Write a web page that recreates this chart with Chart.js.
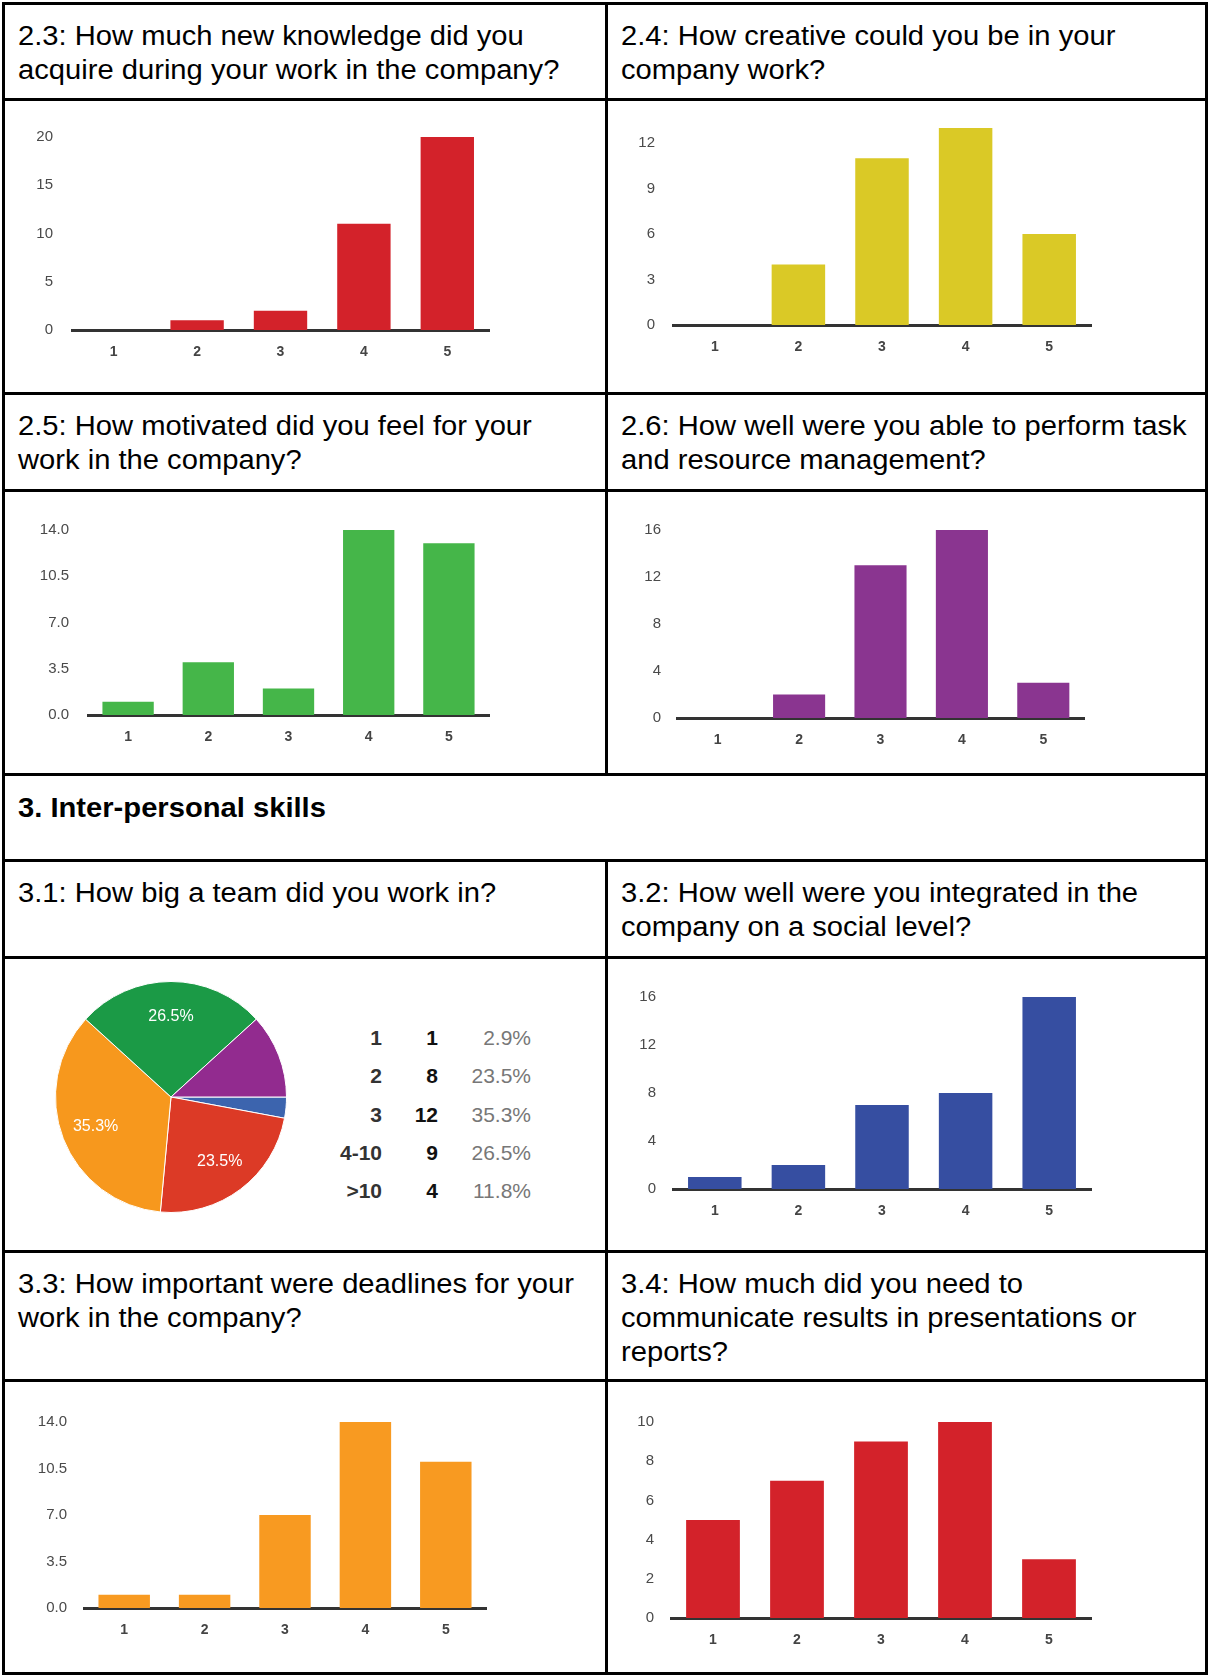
<!DOCTYPE html>
<html>
<head>
<meta charset="utf-8">
<script src="https://cdn.jsdelivr.net/npm/chart.js@4"></script>
<style>
body { margin: 0; background: #fff; font-family: "Liberation Sans", Arial, sans-serif; }
#page { position: relative; width: 1208px; height: 1675px; overflow: hidden; background: #fff; }
.hl, .vl { position: absolute; background: #000; }
.hl { left: 2px; width: 1206px; height: 3px; }
.vl { width: 3px; }
.t { position: absolute; font-size: 27px; line-height: 34px; color: #000; white-space: nowrap;
     transform: scaleX(1.08); transform-origin: 0 0; }
.box { position: absolute; }
#legend { position: absolute; left: 300px; top: 1019px; display: grid;
          grid-template-columns: 82px 56px 93px; grid-auto-rows: 38.3px; align-items: center;
          font-size: 21px; text-align: right; }
#legend .lab { font-weight: bold; color: #333; }
#legend .cnt { font-weight: bold; color: #111; }
#legend .pct { color: #777; }
</style>
</head>
<body>
<div id="page">
  <div class="hl" style="top:2px"></div>
  <div class="hl" style="top:98px"></div>
  <div class="hl" style="top:392px"></div>
  <div class="hl" style="top:489px"></div>
  <div class="hl" style="top:773px"></div>
  <div class="hl" style="top:859px"></div>
  <div class="hl" style="top:956px"></div>
  <div class="hl" style="top:1250px"></div>
  <div class="hl" style="top:1379px"></div>
  <div class="hl" style="top:1672px"></div>
  <div class="vl" style="left:2px;top:2px;height:1673px"></div>
  <div class="vl" style="left:1205px;top:2px;height:1673px"></div>
  <div class="vl" style="left:605px;top:2px;height:774px"></div>
  <div class="vl" style="left:605px;top:859px;height:816px"></div>

  <div class="t" style="left:18px;top:19px">2.3: How much new knowledge did you<br>acquire during your work in the company?</div>
  <div class="t" style="left:621px;top:19px">2.4: How creative could you be in your<br>company work?</div>
  <div class="t" style="left:18px;top:409px">2.5: How motivated did you feel for your<br>work in the company?</div>
  <div class="t" style="left:621px;top:409px">2.6: How well were you able to perform task<br>and resource management?</div>
  <div class="t" style="left:18px;top:791px;font-weight:bold">3. Inter-personal skills</div>
  <div class="t" style="left:18px;top:876px">3.1: How big a team did you work in?</div>
  <div class="t" style="left:621px;top:876px">3.2: How well were you integrated in the<br>company on a social level?</div>
  <div class="t" style="left:18px;top:1267px">3.3: How important were deadlines for your<br>work in the company?</div>
  <div class="t" style="left:621px;top:1267px">3.4: How much did you need to<br>communicate results in presentations or<br>reports?</div>

  <div id="legend"></div>
</div>

<script>
const ratingLabels = ["1", "2", "3", "4", "5"];

const knowledgeValues = [0, 1, 2, 11, 20];
const knowledgeTicks = [0, 5, 10, 15, 20];

const creativityValues = [0, 4, 11, 13, 6];
const creativityTicks = [0, 3, 6, 9, 12];

const motivationValues = [1, 4, 2, 14, 13];
const motivationTicks = [0, 3.5, 7, 10.5, 14];

const managementValues = [0, 2, 13, 16, 3];
const managementTicks = [0, 4, 8, 12, 16];

const teamLabels = ["1", "2", "3", "4-10", ">10"];
const teamCounts = [1, 8, 12, 9, 4];

const integrationValues = [1, 2, 7, 8, 16];
const integrationTicks = [0, 4, 8, 12, 16];

const deadlineValues = [1, 1, 7, 14, 11];
const deadlineTicks = [0, 3.5, 7, 10.5, 14];

const communicationValues = [5, 7, 9, 10, 3];
const communicationTicks = [0, 2, 4, 6, 8, 10];

const FONT = '"Liberation Sans", Arial, sans-serif';
const Y_W = 70, X_H = 44;
const page = document.getElementById("page");

// move/resize the box so the chart area lands on the wanted page rectangle
function fitArea(chart, box, area) {
  const ca = chart.chartArea;
  const w = box.clientWidth, h = box.clientHeight;
  const exL = ca.left, exT = ca.top, exR = w - ca.right, exB = h - ca.bottom;
  box.style.left = (area.l - exL) + "px";
  box.style.top = (area.t - exT) + "px";
  box.style.width = (area.r - area.l + exL + exR) + "px";
  box.style.height = (area.b - area.t + exT + exB) + "px";
  chart.resize();
}

// plot: l/r = x-axis ends, t = pixel of top tick, b = zero line; labelRight = right edge of y labels
function barChart(plot, labelRight, values, ticks, color, decimals) {
  const topTick = ticks[ticks.length - 1];
  const yMax = Math.max(topTick, ...values);
  const area = {
    l: plot.l, r: plot.r, b: plot.b,
    t: plot.b - (plot.b - plot.t) * yMax / topTick
  };

  const box = document.createElement("div");
  box.className = "box";
  box.style.left = (area.l - Y_W) + "px";
  box.style.top = (area.t - 20) + "px";
  box.style.width = (area.r - area.l + Y_W + 20) + "px";
  box.style.height = (area.b - area.t + 20 + X_H) + "px";
  const cv = document.createElement("canvas");
  box.appendChild(cv);
  page.appendChild(box);

  const chart = new Chart(cv, {
    type: "bar",
    data: {
      labels: ratingLabels,
      datasets: [{
        data: values,
        backgroundColor: color,
        borderWidth: 0,
        barPercentage: 0.64,
        categoryPercentage: 1.0
      }]
    },
    options: {
      responsive: true,
      maintainAspectRatio: false,
      animation: false,
      layout: { padding: { top: 12, right: 16, left: 0, bottom: 0 } },
      plugins: { legend: { display: false }, tooltip: { enabled: false } },
      scales: {
        x: {
          z: 1,
          grid: { display: false, drawTicks: false },
          border: { display: true, color: "#333", width: 3 },
          ticks: { color: "#444", padding: 14, font: { family: FONT, size: 14, weight: "bold" } },
          afterFit: s => { s.height = X_H; }
        },
        y: {
          min: ticks[0],
          max: yMax,
          grid: { display: false, drawTicks: false },
          border: { display: false },
          ticks: {
            color: "#4a4a4a",
            padding: plot.l - labelRight,
            font: { family: FONT, size: 15 },
            callback: v => v.toFixed(decimals)
          },
          afterBuildTicks: s => { s.ticks = ticks.map(v => ({ value: v })); },
          afterFit: s => { s.width = Y_W; }
        }
      }
    }
  });
  fitArea(chart, box, area);
  return chart;
}

barChart({ l: 72, r: 489, t: 137, b: 330 }, 53, knowledgeValues, knowledgeTicks, "#d3222a", 0);
barChart({ l: 673, r: 1091, t: 143, b: 325 }, 655, creativityValues, creativityTicks, "#dac926", 0);
barChart({ l: 88, r: 489, t: 530, b: 715 }, 69, motivationValues, motivationTicks, "#45b649", 1);
barChart({ l: 677, r: 1084, t: 530, b: 718 }, 661, managementValues, managementTicks, "#8a3590", 0);
barChart({ l: 673, r: 1091, t: 997, b: 1189 }, 656, integrationValues, integrationTicks, "#364ea1", 0);
barChart({ l: 84, r: 486, t: 1422, b: 1608 }, 67, deadlineValues, deadlineTicks, "#f89a21", 1);
barChart({ l: 671, r: 1091, t: 1422, b: 1618 }, 654, communicationValues, communicationTicks, "#d3222a", 0);

// pie for 3.1
const teamTotal = teamCounts.reduce((a, b) => a + b, 0);
const pieLabels = {
  id: "pieLabels",
  afterDatasetsDraw(chart) {
    const ctx = chart.ctx;
    const meta = chart.getDatasetMeta(0);
    ctx.save();
    ctx.fillStyle = "#fff";
    ctx.font = "16px " + FONT;
    ctx.textAlign = "center";
    ctx.textBaseline = "middle";
    meta.data.forEach((arc, i) => {
      const pct = teamCounts[i] / teamTotal * 100;
      if (pct < 15) return;
      const p = arc.getProps(["x", "y", "startAngle", "endAngle", "outerRadius"], true);
      const mid = (p.startAngle + p.endAngle) / 2;
      const rr = p.outerRadius * 0.7;
      ctx.fillText(pct.toFixed(1) + "%", p.x + Math.cos(mid) * rr, p.y + Math.sin(mid) * rr);
    });
    ctx.restore();
  }
};

const pieBox = document.createElement("div");
pieBox.className = "box";
pieBox.style.left = "55px";
pieBox.style.top = "981px";
pieBox.style.width = "232px";
pieBox.style.height = "232px";
const pieCanvas = document.createElement("canvas");
pieBox.appendChild(pieCanvas);
page.appendChild(pieBox);

new Chart(pieCanvas, {
  type: "pie",
  data: {
    labels: teamLabels,
    datasets: [{
      data: teamCounts,
      backgroundColor: ["#3c64ae", "#dc3a26", "#f7981d", "#1b9a46", "#922b8f"],
      borderColor: "#fff",
      borderWidth: 1
    }]
  },
  options: {
    responsive: true,
    maintainAspectRatio: false,
    animation: false,
    rotation: 90,
    layout: { padding: 0 },
    plugins: { legend: { display: false }, tooltip: { enabled: false } }
  },
  plugins: [pieLabels]
});

const legend = document.getElementById("legend");
teamLabels.forEach((lab, i) => {
  const pct = (teamCounts[i] / teamTotal * 100).toFixed(1) + "%";
  legend.insertAdjacentHTML("beforeend",
    `<div class="lab">${lab}</div><div class="cnt">${teamCounts[i]}</div><div class="pct">${pct}</div>`);
});
</script>
</body>
</html>
